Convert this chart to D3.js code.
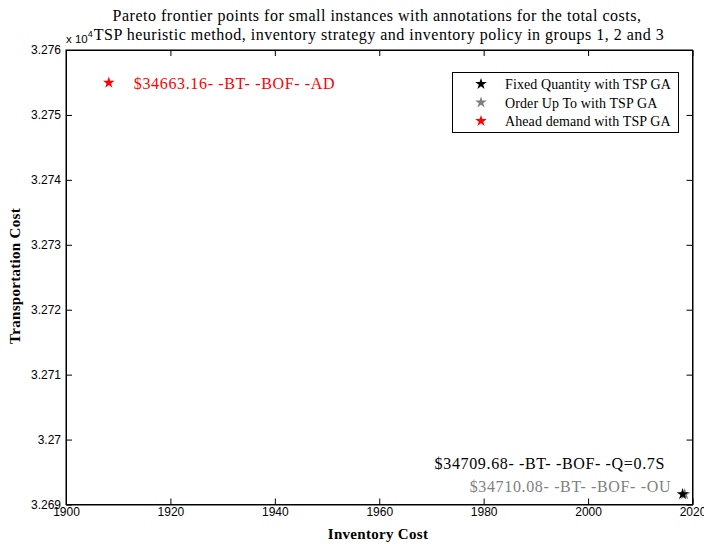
<!DOCTYPE html>
<html>
<head>
<meta charset="utf-8">
<script src="https://cdn.jsdelivr.net/npm/d3@7"></script>
<style>
  body { margin: 0; background: #fff; }
  svg { display: block; }
</style>
</head>
<body>
<svg id="chart" width="704" height="544"></svg>
<script>
// Series: one Pareto point per inventory policy
const seriesNames = ["Fixed Quantity with TSP GA", "Order Up To with TSP GA", "Ahead demand with TSP GA"];
const seriesColors = ["#000000", "#808080", "#ff0000"];
const inventoryCost = [2018.1, 2018.5, 1908.2];
const transportCost = [32691.58, 32691.58, 32754.96];
const totalCost = ["34709.68", "34710.08", "34663.16"];
const policyCode = ["Q=0.7S", "OU", "AD"];

// Axis ticks
const xTicks = [1900, 1920, 1940, 1960, 1980, 2000, 2020];
const yTicks = [3.269, 3.270, 3.271, 3.272, 3.273, 3.274, 3.275, 3.276];
const yTickLabels = ["3.269", "3.27", "3.271", "3.272", "3.273", "3.274", "3.275", "3.276"];

const svg = d3.select("#chart");
const plotL = 66, plotR = 692.5, plotT = 50, plotB = 504.5;

const x = d3.scaleLinear().domain([1900, 2020]).range([plotL, plotR]);
const y = d3.scaleLinear().domain([3.269, 3.276]).range([plotB, plotT]);

const serif = "'Liberation Serif', 'Times New Roman', serif";
const sans = "'Liberation Sans', Arial, sans-serif";

// Axes with inward ticks on all four sides
const tickLen = 6;
svg.append("g").attr("transform", `translate(0,${plotB})`)
  .call(d3.axisBottom(x).tickValues(xTicks).tickSizeInner(-tickLen).tickSizeOuter(0).tickPadding(3).tickFormat(d3.format("d")));
svg.append("g").attr("transform", `translate(0,${plotT})`)
  .call(d3.axisTop(x).tickValues(xTicks).tickSizeInner(-tickLen).tickSizeOuter(0).tickFormat(""));
svg.append("g").attr("transform", `translate(${plotL},0)`)
  .call(d3.axisLeft(y).tickValues(yTicks).tickSizeInner(-tickLen).tickSizeOuter(0).tickPadding(5)
    .tickFormat((d, i) => yTickLabels[i]));
svg.append("g").attr("transform", `translate(${plotR},0)`)
  .call(d3.axisRight(y).tickValues(yTicks).tickSizeInner(-tickLen).tickSizeOuter(0).tickFormat(""));

svg.selectAll(".domain").attr("stroke", "#000");
svg.selectAll(".tick line").attr("stroke", "#000");
svg.selectAll(".tick text").attr("font-family", sans).attr("font-size", 12).attr("fill", "#000");

// Axes box
svg.append("rect").attr("x", plotL).attr("y", plotT).attr("width", plotR - plotL).attr("height", plotB - plotT)
  .attr("fill", "none").attr("stroke", "#000").attr("stroke-width", 1);

// Exponent marker
const ex = svg.append("text").attr("x", plotL).attr("y", 43).attr("font-family", sans).attr("font-size", 11.5);
ex.append("tspan").text("x 10");
ex.append("tspan").attr("dy", -6).attr("font-size", 9).text("4");

// Title
const title = svg.append("text").attr("text-anchor", "middle").attr("font-family", serif)
  .attr("font-size", 16).attr("letter-spacing", 0.5);
title.append("tspan").attr("x", 377).attr("y", 21).text("Pareto frontier points for small instances with annotations for the total costs,");
title.append("tspan").attr("x", 379).attr("y", 39.5).text("TSP heuristic method, inventory strategy and inventory policy in groups 1, 2 and 3");

// Axis labels
svg.append("text").attr("x", 378).attr("y", 539).attr("text-anchor", "middle")
  .attr("font-family", serif).attr("font-weight", "bold").attr("font-size", 15).attr("letter-spacing", 0.3)
  .text("Inventory Cost");
svg.append("text").attr("transform", `translate(20,276) rotate(-90)`).attr("text-anchor", "middle")
  .attr("font-family", serif).attr("font-weight", "bold").attr("font-size", 15).attr("letter-spacing", 0.3)
  .text("Transportation Cost");

// Points (drawn with star markers)
const star = d3.symbol().type(d3.symbolStar).size(42);
const order = [1, 0, 2];
svg.append("g").selectAll("path").data(order).join("path")
  .attr("d", star)
  .attr("transform", i => `translate(${x(inventoryCost[i])},${y(transportCost[i] / 1e4)})`)
  .attr("fill", i => seriesColors[i]);

// Annotations with total cost, heuristic, strategy and policy
const annoOffsets = [[-248, -25], [-215, -2], [25, 6]];
svg.append("g").selectAll("text").data([0, 1, 2]).join("text")
  .attr("x", i => x(inventoryCost[i]) + annoOffsets[i][0])
  .attr("y", i => y(transportCost[i] / 1e4) + annoOffsets[i][1])
  .attr("font-family", serif).attr("font-size", 16).attr("letter-spacing", 0.65)
  .attr("fill", i => seriesColors[i])
  .text(i => `$${totalCost[i]}- -BT- -BOF- -${policyCode[i]}`);

// Legend
const lg = svg.append("g");
lg.append("rect").attr("x", 452.5).attr("y", 72.5).attr("width", 226).attr("height", 60)
  .attr("fill", "#fff").attr("stroke", "#000");
const rows = lg.selectAll("g").data([0, 1, 2]).join("g")
  .attr("transform", i => `translate(0,${84 + i * 18.5})`);
rows.append("path").attr("d", star).attr("transform", "translate(481,0)").attr("fill", i => seriesColors[i]);
rows.append("text").attr("x", 505).attr("y", 5).attr("font-family", serif).attr("font-size", 14)
  .attr("letter-spacing", 0.1)
  .text(i => seriesNames[i]);
</script>
</body>
</html>
